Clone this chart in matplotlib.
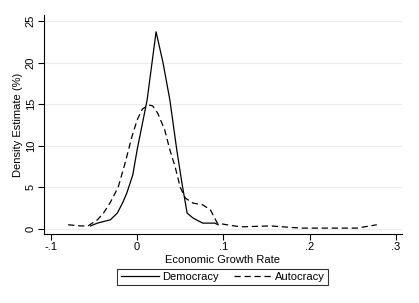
import numpy as np
import matplotlib.pyplot as plt

plt.rcParams['font.family'] = ['Liberation Sans', 'DejaVu Sans']

# density estimates (growth rate, density %)
dem_x = [-0.054, -0.046, -0.031, -0.023, -0.017, -0.012, -0.005, 0.0, 0.0116,
         0.022, 0.030, 0.038, 0.046, 0.052, 0.058, 0.065, 0.076, 0.090, 0.094]
dem_y = [0.36, 0.7, 1.1, 1.9, 3.1, 4.3, 6.5, 9.5, 15.5,
         23.7, 20.0, 15.5, 9.5, 5.5, 1.9, 1.3, 0.7, 0.7, 0.5]

aut_x = [-0.080, -0.066, -0.057, -0.046, -0.039, -0.031, -0.022, -0.014, -0.006,
         0.0, 0.006, 0.013, 0.018, 0.024, 0.032, 0.038, 0.044, 0.050, 0.056,
         0.065, 0.076, 0.085, 0.093, 0.104, 0.12, 0.154, 0.19, 0.255, 0.278]
aut_y = [0.5, 0.36, 0.36, 1.1, 1.9, 3.2, 5.0, 7.9, 11.1,
         13.1, 14.4, 14.9, 14.8, 13.9, 11.9, 9.5, 7.5, 5.0, 3.7,
         3.1, 2.9, 2.3, 0.7, 0.5, 0.25, 0.36, 0.1, 0.1, 0.5]

x_ticks = [-0.1, 0, 0.1, 0.2, 0.3]
x_labels = ["-.1", "0", ".1", ".2", ".3"]
y_ticks = [0, 5, 10, 15, 20, 25]

fig = plt.figure(figsize=(4.19, 3.03), dpi=100)
ax = fig.add_axes([0.105, 0.228, 0.854, 0.722])

for y in y_ticks:
    ax.axhline(y, color='#ececec', lw=0.8, zorder=0)

ax.plot(dem_x, dem_y, color='black', lw=0.9, label='Democracy')
ax.plot(aut_x, aut_y, color='black', lw=0.9, dashes=(5, 3), label='Autocracy')

ax.set_xlim(-0.108, 0.307)
ax.set_ylim(-0.6, 25.7)
ax.set_xticks(x_ticks)
ax.set_xticklabels(x_labels)
ax.set_yticks(y_ticks)
ax.tick_params(axis='y', labelrotation=90, length=4, width=0.8, labelsize=8, pad=2)
ax.tick_params(axis='x', length=4, width=0.8, labelsize=8, pad=2)
for lab in ax.get_yticklabels():
    lab.set_va('center')

ax.spines['top'].set_visible(False)
ax.spines['right'].set_visible(False)
ax.spines['left'].set_linewidth(0.8)
ax.spines['bottom'].set_linewidth(0.8)

ax.set_xlabel("Economic Growth Rate", fontsize=8, labelpad=2)
ax.set_ylabel("Density Estimate (%)", fontsize=8, labelpad=2)

leg = fig.legend(loc='center', bbox_to_anchor=(0.532, 0.086), ncol=2,
                 fontsize=8, frameon=True, fancybox=False, edgecolor='black',
                 handlelength=3.4, handletextpad=0.3, columnspacing=1.4,
                 borderpad=0.3, borderaxespad=0)
leg.get_frame().set_linewidth(0.8)

plt.savefig("out.png", dpi=100)
